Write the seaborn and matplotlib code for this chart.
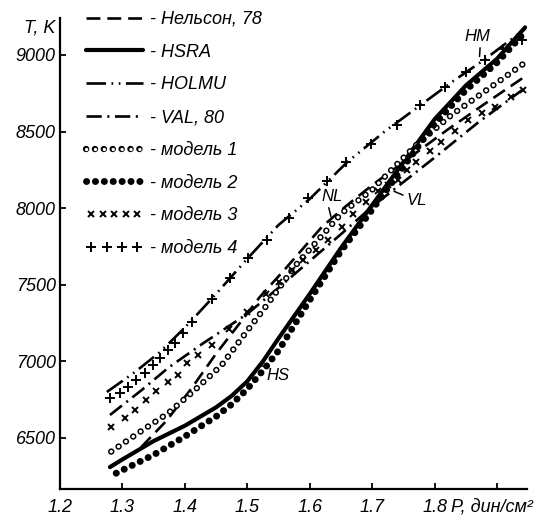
import matplotlib
matplotlib.use("Agg")
import matplotlib.pyplot as plt
import matplotlib.transforms as mtransforms
from matplotlib.legend_handler import HandlerLine2D
import seaborn as sns

# P, дин/см^2 -> T, K
p_nelson = [1.33, 1.37, 1.41, 1.45, 1.49, 1.52, 1.56, 1.62, 1.66, 1.70, 1.76, 1.82, 1.88, 1.945]
t_nelson = [6440, 6610, 6820, 7050, 7260, 7420, 7600, 7880, 8020, 8150, 8330, 8510, 8680, 8860]

p_hsra = [1.28, 1.30, 1.35, 1.40, 1.45, 1.475, 1.50, 1.525, 1.55, 1.60, 1.65, 1.70, 1.75,
          1.80, 1.85, 1.90, 1.945]
t_hsra = [6310, 6360, 6480, 6580, 6700, 6775, 6870, 7000, 7150, 7440, 7740, 8020, 8300,
          8580, 8800, 8975, 9180]

p_holmu = [1.275, 1.32, 1.36, 1.40, 1.45, 1.50, 1.55, 1.60, 1.66, 1.72, 1.78, 1.83, 1.88, 1.945]
t_holmu = [6800, 6930, 7060, 7220, 7440, 7670, 7890, 8060, 8300, 8500, 8680, 8830, 8970, 9170]

p_val = [1.28, 1.33, 1.374, 1.43, 1.50, 1.55, 1.60, 1.65, 1.70, 1.75, 1.80, 1.87, 1.94]
t_val = [6650, 6810, 6960, 7120, 7310, 7480, 7655, 7830, 8010, 8170, 8330, 8560, 8770]

p_m1 = [1.282, 1.33, 1.373, 1.416, 1.459, 1.50, 1.53, 1.576, 1.63, 1.651, 1.70, 1.731, 1.77, 1.827, 1.891, 1.947]
t_m1 = [6411, 6545, 6661, 6813, 6976, 7200, 7360, 7620, 7869, 7967, 8120, 8250, 8410, 8608, 8793, 8956]

p_m2 = [1.29, 1.35, 1.40, 1.45, 1.475, 1.50, 1.525, 1.55, 1.60, 1.65, 1.70, 1.75, 1.80,
        1.85, 1.90, 1.945]
t_m2 = [6270, 6390, 6510, 6640, 6720, 6820, 6940, 7070, 7400, 7720, 7990, 8270, 8550,
        8770, 8950, 9150]

p_m3 = [1.282, 1.304, 1.320, 1.338, 1.354, 1.373, 1.389, 1.403, 1.421, 1.443, 1.47, 1.50,
        1.53, 1.55, 1.571, 1.59, 1.61, 1.63, 1.651, 1.670, 1.69, 1.71, 1.725, 1.742, 1.755,
        1.771, 1.792, 1.811, 1.833, 1.854, 1.876, 1.897, 1.923, 1.942]
t_m3 = [6574, 6628, 6683, 6748, 6809, 6868, 6911, 6987, 7042, 7107, 7210, 7320,
        7440, 7520, 7597, 7660, 7725, 7792, 7879, 7960, 8040, 8110, 8151, 8184, 8249,
        8303, 8370, 8434, 8505, 8576, 8620, 8662, 8728, 8771]

p_m4 = [1.280, 1.296, 1.309, 1.322, 1.336, 1.349, 1.360, 1.373, 1.384, 1.397, 1.411, 1.443,
        1.472, 1.501, 1.531, 1.566, 1.598, 1.628, 1.658, 1.698, 1.739, 1.777, 1.816, 1.85,
        1.88, 1.91, 1.94]
t_m4 = [6759, 6792, 6831, 6879, 6922, 6976, 7020, 7074, 7118, 7183, 7259, 7405,
        7542, 7673, 7792, 7934, 8065, 8175, 8303, 8420, 8543, 8673, 8793, 8890,
        8970, 9040, 9100]

x_ticks = [1.2, 1.3, 1.4, 1.5, 1.6, 1.7, 1.8, 1.9]
x_ticklabels = ["1.2", "1.3", "1.4", "1.5", "1.6", "1.7", "1.8", ""]
y_ticks = [6500, 7000, 7500, 8000, 8500, 9000]

sns.set_style("white")
plt.rcParams["font.family"] = ["Liberation Sans", "DejaVu Sans"]
plt.rcParams["font.style"] = "italic"
plt.rcParams["font.size"] = 13
plt.rcParams["lines.scale_dashes"] = False
for k in ["text.color", "xtick.color", "ytick.color", "axes.labelcolor", "axes.edgecolor"]:
    plt.rcParams[k] = "black"

fig = plt.figure(figsize=(5.4, 5.18), dpi=100)
ax = fig.add_axes([60 / 540, 1 - 489 / 518, 467 / 540, 471 / 518])


def curve(x, y, color="black", **kw):
    sns.lineplot(x=x, y=y, ax=ax, color=color, estimator=None, **kw)
    return ax.lines[-1]


dotted = (0, (0.1, 6.3))
h_nelson = curve(p_nelson, t_nelson, lw=1.9, linestyle=(0, (10, 5)))
h_hsra = curve(p_hsra, t_hsra, lw=3.0)
h_holmu = curve(p_holmu, t_holmu, lw=1.9, linestyle=(0, (14, 4, 1.2, 4, 1.2, 4)))
h_val = curve(p_val, t_val, lw=1.9, linestyle=(0, (11, 4, 1.5, 4)))
h_m1a = curve(p_m1, t_m1, lw=4.6, linestyle=dotted, dash_capstyle="round")
h_m1b = curve(p_m1, t_m1, lw=2.4, linestyle=dotted, dash_capstyle="round", color="white")
h_m2 = curve(p_m2, t_m2, lw=5.0, linestyle=dotted, dash_capstyle="round")
h_m3 = curve(p_m3, t_m3, linestyle="", marker="x", markersize=5,
             markeredgewidth=1.4, markeredgecolor="black")
h_m4 = curve(p_m4, t_m4, linestyle="", marker="+", markersize=7,
             markeredgewidth=1.4, markeredgecolor="black")

ax.set_xlim(1.2, 1.948)
ax.set_ylim(6167, 9241)
ax.set_xticks(x_ticks)
ax.set_xticklabels(x_ticklabels)
ax.set_yticks(y_ticks)
ax.set_xlabel("")
ax.set_ylabel("")
ax.tick_params(direction="in", length=4, width=1.3, labelsize=13, bottom=True, left=True)
ax.tick_params(axis="x", pad=7)
ax.tick_params(axis="y", pad=3)
sns.despine(ax=ax)
for s in ["left", "bottom"]:
    ax.spines[s].set_linewidth(1.6)

trans = mtransforms.blended_transform_factory(ax.transData, ax.transAxes)
ax.text(1.892, -0.021, "P, дин/см²", transform=trans, ha="center", va="top", fontsize=13)
ax.text(-0.043, 0.978, "T, K", transform=ax.transAxes, ha="center", va="center", fontsize=13)

arrow = dict(arrowstyle="-", lw=1.1, color="black", shrinkA=0, shrinkB=0)
ax.annotate("HS", xy=(1.52, 6975), xytext=(1.531, 6911), ha="left", va="center",
            fontsize=12, arrowprops={**arrow, "relpos": (0, 1)})
ax.annotate("NL", xy=(1.634, 7945), xytext=(1.636, 8073), ha="center", va="center",
            fontsize=12, arrowprops={**arrow, "relpos": (0.3, 0)})
ax.annotate("VL", xy=(1.735, 8110), xytext=(1.771, 8047), ha="center", va="center",
            fontsize=12, arrowprops={**arrow, "relpos": (0, 0.8)})
ax.annotate("HM", xy=(1.872, 8990), xytext=(1.869, 9117), ha="center", va="center",
            fontsize=12, arrowprops={**arrow, "relpos": (0.6, 0)})

handles = [h_nelson, h_hsra, h_holmu, h_val, (h_m1a, h_m1b), h_m2, h_m3, h_m4]
labels = ["- Нельсон, 78", "- HSRA", "- HOLMU", "- VAL, 80",
          "- модель 1", "- модель 2", "- модель 3", "- модель 4"]
ax.legend(handles, labels, loc="upper left", bbox_to_anchor=(86 / 540, 1 - 11 / 518),
          bbox_transform=fig.transFigure, frameon=False, borderpad=0, borderaxespad=0,
          handlelength=3.15, handletextpad=0.4, labelspacing=0.87, fontsize=13,
          handler_map={h_m3: HandlerLine2D(numpoints=5), h_m4: HandlerLine2D(numpoints=4)})

fig.savefig("out.png", dpi=100)
